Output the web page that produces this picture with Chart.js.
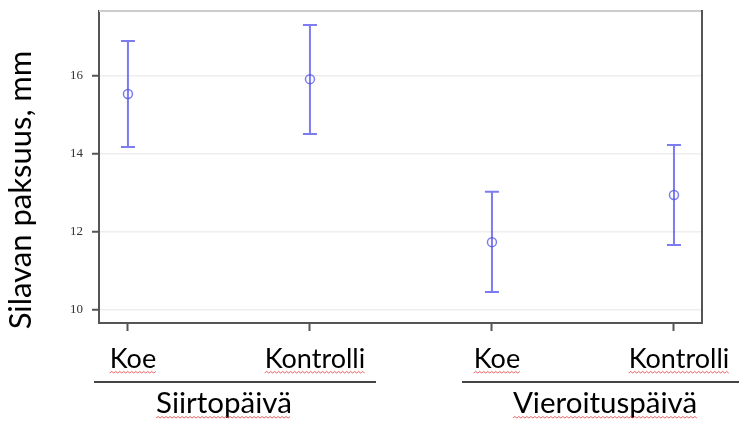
<!DOCTYPE html>
<html>
<head>
<meta charset="utf-8">
<script src="https://cdn.jsdelivr.net/npm/chart.js@4.4.1/dist/chart.umd.min.js"></script>
<style>
  html, body { margin: 0; padding: 0; background: #fff; }
  #wrap { width: 739px; height: 424px; }
</style>
</head>
<body>
<div id="wrap"><canvas id="chart" width="739" height="424"></canvas></div>
<script>
// data
var categories = ["Koe", "Kontrolli", "Koe", "Kontrolli"];
var groups = ["Siirtopäivä", "Vieroituspäivä"];
var means = [15.54, 15.92, 11.74, 12.95];
var lower = [14.18, 14.51, 10.46, 11.67];
var upper = [16.90, 17.31, 13.03, 14.23];
var yTicks = [10, 12, 14, 16];
var yTitle = "Silavan paksuus, mm";

var blue = "rgba(80,80,235,0.75)";
var dark = "#555";
var labelFont = "Lato, 'Open Sans', sans-serif";

function squiggle(ctx, x0, x1, y) {
  ctx.save();
  ctx.strokeStyle = "rgba(230,60,60,0.8)";
  ctx.lineWidth = 1;
  ctx.beginPath();
  ctx.moveTo(x0, y);
  var up = true;
  for (var x = x0 + 2; x <= x1; x += 2) {
    ctx.lineTo(x, up ? y - 1.5 : y);
    up = !up;
  }
  ctx.stroke();
  ctx.restore();
}

var errorBars = {
  id: "errorBars",
  beforeDatasetsDraw: function(chart) {
    var ctx = chart.ctx, xs = chart.scales.x, ys = chart.scales.y;
    ctx.save();
    ctx.strokeStyle = blue;
    ctx.lineWidth = 2;
    for (var i = 0; i < means.length; i++) {
      var x = xs.getPixelForValue(i);
      var yl = ys.getPixelForValue(lower[i]);
      var yu = ys.getPixelForValue(upper[i]);
      ctx.beginPath();
      ctx.moveTo(x, yl); ctx.lineTo(x, yu);
      ctx.moveTo(x - 7, yl); ctx.lineTo(x + 7, yl);
      ctx.moveTo(x - 7, yu); ctx.lineTo(x + 7, yu);
      ctx.stroke();
    }
    ctx.restore();
  }
};

var frame = {
  id: "frame",
  afterDraw: function(chart) {
    var ctx = chart.ctx, a = chart.chartArea, xs = chart.scales.x;
    ctx.save();
    // top and right edges of the box
    ctx.strokeStyle = "#ccc";
    ctx.lineWidth = 2;
    ctx.beginPath(); ctx.moveTo(a.left, a.top); ctx.lineTo(a.right, a.top); ctx.stroke();
    ctx.strokeStyle = dark;
    ctx.beginPath(); ctx.moveTo(a.right, a.top - 1); ctx.lineTo(a.right, a.bottom + 1); ctx.stroke();

    // group lines and labels
    ctx.strokeStyle = "#444";
    ctx.lineWidth = 2;
    ctx.beginPath();
    ctx.moveTo(94, 382); ctx.lineTo(376, 382);
    ctx.moveTo(462, 382); ctx.lineTo(739, 382);
    ctx.stroke();

    ctx.fillStyle = "#000";
    ctx.font = "29.5px " + labelFont;
    ctx.textAlign = "center";
    ctx.textBaseline = "alphabetic";
    var gx = [224, 605];
    for (var g = 0; g < groups.length; g++) {
      ctx.fillText(groups[g], gx[g], 413);
      var w = ctx.measureText(groups[g]).width;
      squiggle(ctx, gx[g] - w / 2, gx[g] + w / 2, 418);
    }

    // spell-check underline under the category labels
    ctx.font = "27px " + labelFont;
    for (var i = 0; i < categories.length; i++) {
      var cx = xs.getPixelForValue(i) + 5;
      var cw = ctx.measureText(categories[i]).width;
      squiggle(ctx, cx - cw / 2, cx + cw / 2, 373);
    }

    // y title
    ctx.translate(31, 190);
    ctx.rotate(-Math.PI / 2);
    ctx.font = "31px " + labelFont;
    ctx.fillText(yTitle, 0, 0);
    ctx.restore();
  }
};

new Chart(document.getElementById("chart"), {
  type: "scatter",
  data: {
    datasets: [{
      data: means.map(function(v, i) { return { x: i, y: v }; }),
      pointStyle: "circle",
      pointRadius: 4.5,
      pointBorderWidth: 1.5,
      borderColor: blue,
      backgroundColor: "rgba(0,0,0,0)"
    }]
  },
  options: {
    responsive: false,
    animation: false,
    layout: { padding: { top: 11, right: 37, left: 0, bottom: 0 } },
    plugins: { legend: { display: false }, tooltip: { enabled: false } },
    scales: {
      x: {
        type: "linear",
        min: -0.159,
        max: 3.154,
        afterFit: function(s) { s.height = 101; s.paddingLeft = 0; s.paddingRight = 0; },
        afterBuildTicks: function(s) {
          s.ticks = categories.map(function(c, i) { return { value: i }; });
        },
        ticks: {
          callback: function(v) { return categories[v]; },
          color: "#000",
          font: { family: labelFont, size: 27 },
          padding: 12,
          labelOffset: 5,
          maxRotation: 0,
          autoSkip: false
        },
        grid: { drawOnChartArea: false, drawTicks: true, tickLength: 8, tickColor: dark, tickWidth: 2 },
        border: { color: dark, width: 2 }
      },
      y: {
        min: 9.667,
        max: 17.667,
        afterFit: function(s) { s.width = 99; s.paddingTop = 0; s.paddingBottom = 0; },
        afterBuildTicks: function(s) {
          s.ticks = yTicks.map(function(v) { return { value: v }; });
        },
        ticks: {
          color: "#333",
          font: { family: "'Liberation Serif', serif", size: 13 },
          padding: 9
        },
        grid: { color: "#eee", lineWidth: 1.5, tickLength: 7, tickColor: dark, tickWidth: 2 },
        border: { color: dark, width: 2 }
      }
    }
  },
  plugins: [errorBars, frame]
});
</script>
</body>
</html>
